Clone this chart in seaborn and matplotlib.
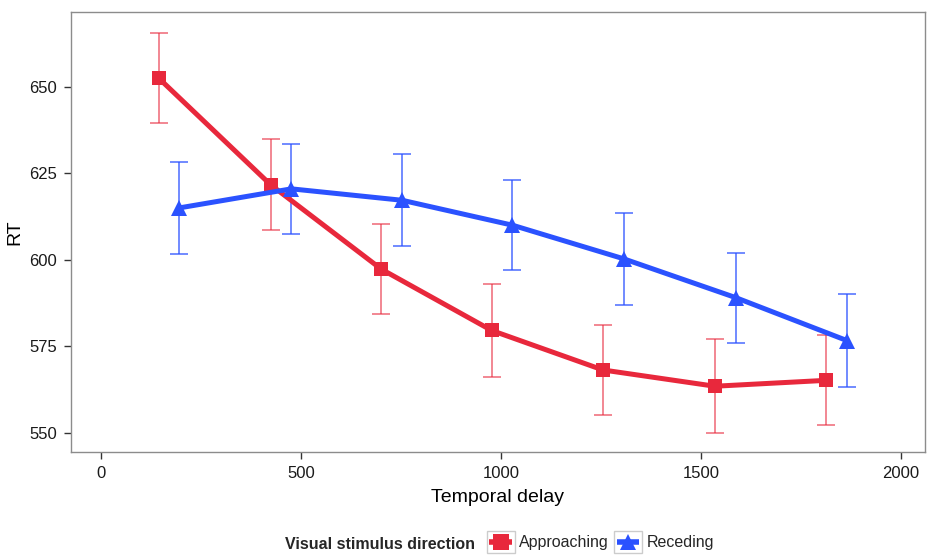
import numpy as np
import pandas as pd
import matplotlib
matplotlib.use("Agg")
import matplotlib.pyplot as plt
import seaborn as sns
from matplotlib.lines import Line2D
from matplotlib.patches import Rectangle
from matplotlib.legend_handler import HandlerBase

delays = [170, 450, 727, 1003, 1281, 1561, 1839]
approach_rt = [652.5, 621.7, 597.3, 579.6, 568.2, 563.5, 565.2]
approach_err = [13.0, 13.2, 13.0, 13.3, 12.9, 13.5, 13.0]
recede_rt = [615.0, 620.5, 617.2, 610.0, 600.3, 589.1, 576.7]
recede_err = [13.3, 13.0, 13.3, 13.0, 13.2, 13.0, 13.3]
groups = ["Approaching", "Receding"]
dodge = {"Approaching": -26, "Receding": 26}
colors = {"Approaching": "#E8283C", "Receding": "#2B52FF"}
markers = {"Approaching": "s", "Receding": "^"}
msizes = {"Approaching": 10.5, "Receding": 12}

df = pd.DataFrame({
    "delay": delays * 2,
    "RT": approach_rt + recede_rt,
    "err": approach_err + recede_err,
    "dir": ["Approaching"] * len(delays) + ["Receding"] * len(delays),
})
df["x"] = df["delay"] + df["dir"].map(dodge)

sns.set_theme(style="white")
plt.rcParams["font.family"] = ["Liberation Sans", "DejaVu Sans"]

fig = plt.figure(figsize=(9.27, 5.56), dpi=100)
ax = fig.add_axes([0.0766, 0.187, 0.921, 0.791])

for g in groups:
    sub = df[df["dir"] == g]
    ax.errorbar(sub["x"], sub["RT"], yerr=sub["err"], fmt="none",
                ecolor=colors[g], alpha=0.7 if g == "Approaching" else 0.85,
                elinewidth=1.1, capsize=6.8, capthick=1.1, zorder=2)

for g in groups:
    sub = df[df["dir"] == g]
    sns.lineplot(data=sub, x="x", y="RT", color=colors[g], marker=markers[g],
                 linewidth=3.6, markersize=msizes[g], markeredgewidth=0,
                 ax=ax, legend=False, zorder=3, sort=True)

ax.set_xlim(-75, 2060)
ax.set_ylim(544.5, 671.5)
ax.set_xticks([0, 500, 1000, 1500, 2000])
ax.set_yticks([550, 575, 600, 625, 650])
ax.tick_params(axis="both", which="both", direction="out", length=5,
               width=1, color="#333333", labelsize=12, labelcolor="#1a1a1a",
               bottom=True, left=True, pad=5)
for s in ax.spines.values():
    s.set_color("#8c8c8c")
    s.set_linewidth(1.0)
ax.set_xlabel("Temporal delay", fontsize=14, color="black", labelpad=6)
ax.set_ylabel("RT", fontsize=14, color="black", labelpad=4)
ax.grid(False)


class Key:
    def __init__(self, color, marker):
        self.color = color
        self.marker = marker


class BoxKeyHandler(HandlerBase):
    def create_artists(self, legend, orig_handle, xdescent, ydescent,
                       width, height, fontsize, trans):
        x0, y0 = -xdescent, -ydescent
        r = Rectangle((x0, y0), width, height, facecolor="white",
                      edgecolor="#cccccc", linewidth=1, transform=trans)
        cy = y0 + height / 2
        ln = Line2D([x0 + 2, x0 + width - 2], [cy, cy], color=orig_handle.color,
                    linewidth=4, solid_capstyle="butt", transform=trans)
        mk = Line2D([x0 + width / 2], [cy], marker=orig_handle.marker, markersize=11,
                    color=orig_handle.color, markeredgewidth=0, linestyle="",
                    transform=trans)
        return [r, ln, mk]


handles = [Key(colors[g], markers[g]) for g in groups]

fig.text(0.307, 0.021, "Visual stimulus direction", fontsize=11.5,
         fontweight="bold", ha="left", va="center")
leg = fig.legend(handles, groups, handler_map={Key: BoxKeyHandler()},
                 loc="center left", bbox_to_anchor=(0.525, 0.026), ncol=2,
                 frameon=False, fontsize=11.5, handlelength=1.75, handleheight=1.75,
                 handletextpad=0.3, columnspacing=0.3, borderpad=0.0,
                 borderaxespad=0.0)

fig.savefig("out.png", dpi=100)
